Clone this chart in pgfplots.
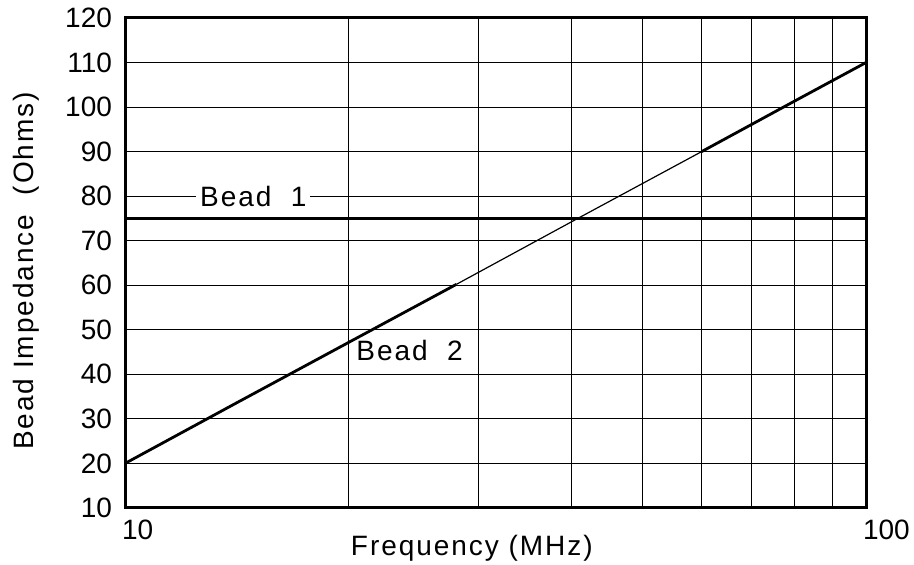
\documentclass[border=0pt]{standalone}
\usepackage{pgfplots}
\pgfplotsset{compat=1.18}
\usepackage{fontspec}
\setmainfont{Liberation Sans}
\newfontfamily\lab{Liberation Sans}[LetterSpace=7]
\begin{document}
\begin{tikzpicture}
\begin{axis}[
  at={(0,0)}, anchor=south west,
  scale only axis,
  width=370.5pt, height=245pt,
  xmode=log, xmin=10, xmax=100,
  ymin=10, ymax=120,
  ytick={10,20,...,120},
  xtick={10,100},
  xticklabels={10,100},
  minor xtick={20,30,40,50,60,70,80,90},
  log ticks with fixed point,
  major tick length=0pt, minor tick length=0pt,
  grid=both,
  major grid style={black, line width=0.5pt},
  minor grid style={black, line width=0.5pt},
  axis line style={line width=1.5pt},
  font=\fontsize{14}{16}\selectfont,
  /pgf/number format/assume math mode=true,
  xticklabel style={anchor=base west, xshift=-5pt, yshift=-16pt},
  yticklabel style={xshift=-3pt},
  xlabel={\lab Frequency (MHz)},
  ylabel={\lab Bead Impedance\ \ (Ohms)},
  xlabel style={at={(axis description cs:0.468,0)}, anchor=base, yshift=-24pt},
  ylabel style={at={(axis description cs:-0.124,0.484)}, anchor=base, rotate=0},
  clip=false,
]
\addplot[black, line width=1.4pt] coordinates {(10,75) (100,75)};
\addplot[black, line width=1.4pt] coordinates {(10,20) (14,33.2) (20,47.1) (28,60.2)};
\addplot[black, line width=0.6pt] coordinates {(28,60.2) (40,74.2) (60,90.0)};
\addplot[black, line width=1.4pt] coordinates {(60,90.0) (80,101.3) (100,110)};
\node[fill=white, inner xsep=2pt, inner ysep=1pt, anchor=center] at (axis cs:14.9,80) {\lab Bead\ \ 1};
\node[anchor=west, inner sep=0pt] at (axis cs:20.5,45.3) {\lab Bead\ \ 2};
\end{axis}
\pgfresetboundingbox
\path (-62.5pt,-28.5pt) rectangle (394.5pt,254pt);
\end{tikzpicture}
\end{document}
